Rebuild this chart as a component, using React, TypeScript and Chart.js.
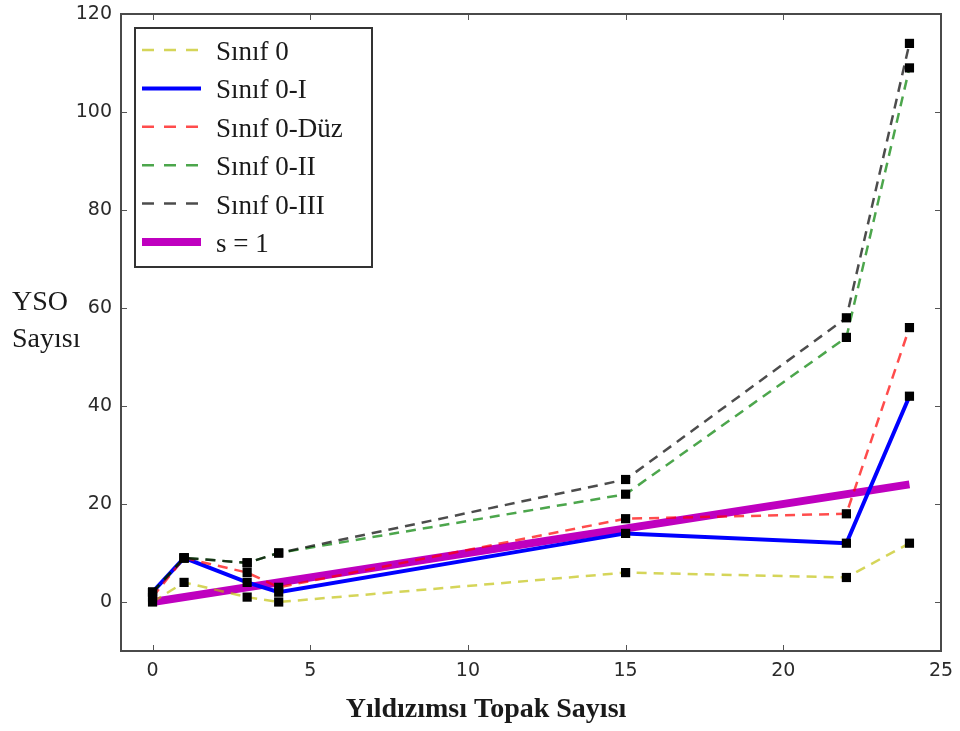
import React, { useEffect, useRef } from "react";
import { Chart, registerables } from "chart.js";

Chart.register(...registerables);

// ---- data ----
const clusterCounts = [0, 1, 3, 4, 15, 22, 24];
const sinif0 = [0, 4, 1, 0, 6, 5, 12];
const sinif0I = [2, 9, 4, 2, 14, 12, 42];
const sinif0Duz = [1, 9, 6, 3, 17, 18, 56];
const sinif0II = [2, 9, 8, 10, 22, 54, 109];
const sinif0III = [2, 9, 8, 10, 25, 58, 114];
const slopeOneX = [0, 24];
const slopeOneY = [0, 24];
const xTickValues = [0, 5, 10, 15, 20, 25];
const yTickValues = [0, 20, 40, 60, 80, 100, 120];
const seriesLabels = ["Sınıf 0", "Sınıf 0-I", "Sınıf 0-Düz", "Sınıf 0-II", "Sınıf 0-III", "s = 1"];
const xTitle = "Yıldızımsı Topak Sayısı";
const yTitleLines = ["YSO", "Sayısı"];

const seriesStyles = [
  { color: "rgba(191,191,0,0.65)", width: 2.5, dash: [10, 7] },
  { color: "#0000ff", width: 4, dash: [] as number[] },
  { color: "rgba(255,0,0,0.7)", width: 2.5, dash: [10, 7] },
  { color: "rgba(0,128,0,0.7)", width: 2.5, dash: [10, 7] },
  { color: "rgba(0,0,0,0.7)", width: 2.5, dash: [10, 7] },
  { color: "#bf00bf", width: 8, dash: [] as number[] },
];

const toPoints = (xs: number[], ys: number[]) => xs.map((x, i) => ({ x, y: ys[i] }));

const overlayPlugin = {
  id: "overlay",
  afterDraw(chart: any) {
    const { ctx, chartArea } = chart;
    const { left, right, top, bottom } = chartArea;
    const xs = chart.scales.x;
    const ys = chart.scales.y;
    ctx.save();
    // tick marks (inward, all sides)
    ctx.strokeStyle = "#555";
    ctx.lineWidth = 1;
    ctx.setLineDash([]);
    xTickValues.forEach((v) => {
      const px = Math.round(xs.getPixelForValue(v)) + 0.5;
      ctx.beginPath();
      ctx.moveTo(px, bottom);
      ctx.lineTo(px, bottom - 6);
      ctx.moveTo(px, top);
      ctx.lineTo(px, top + 6);
      ctx.stroke();
    });
    yTickValues.forEach((v) => {
      const py = Math.round(ys.getPixelForValue(v)) + 0.5;
      ctx.beginPath();
      ctx.moveTo(left, py);
      ctx.lineTo(left + 6, py);
      ctx.moveTo(right, py);
      ctx.lineTo(right - 6, py);
      ctx.stroke();
    });
    // frame
    ctx.strokeStyle = "#4a4a4a";
    ctx.lineWidth = 2;
    ctx.strokeRect(left, top, right - left, bottom - top);

    // legend
    const lx = 135, ly = 28, lw = 237, lh = 239;
    ctx.fillStyle = "#ffffff";
    ctx.fillRect(lx, ly, lw, lh);
    ctx.strokeStyle = "#333";
    ctx.lineWidth = 2;
    ctx.strokeRect(lx, ly, lw, lh);
    ctx.font = "27px 'Liberation Serif', 'Times New Roman', serif";
    ctx.textBaseline = "alphabetic";
    ctx.textAlign = "left";
    seriesLabels.forEach((label, i) => {
      const cy = 50 + i * 38.4;
      const st = seriesStyles[i];
      ctx.beginPath();
      ctx.strokeStyle = st.color;
      ctx.lineWidth = st.width;
      ctx.setLineDash(st.dash.length ? [12, 10] : []);
      ctx.lineCap = "butt";
      ctx.moveTo(142, cy);
      ctx.lineTo(201, cy);
      ctx.stroke();
      ctx.setLineDash([]);
      ctx.fillStyle = "#1a1a1a";
      ctx.fillText(label, 216, cy + 10);
    });

    // axis titles
    ctx.fillStyle = "#1a1a1a";
    ctx.font = "28px 'Liberation Serif', 'Times New Roman', serif";
    ctx.textAlign = "left";
    ctx.fillText(yTitleLines[0], 12, 310);
    ctx.fillText(yTitleLines[1], 12, 347);
    ctx.font = "bold 28px 'Liberation Serif', 'Times New Roman', serif";
    ctx.textAlign = "center";
    ctx.fillText(xTitle, 486, 717);
    ctx.restore();
  },
};

export default function App() {
  const ref = useRef<HTMLCanvasElement | null>(null);
  useEffect(() => {
    if (!ref.current) return;
    const seriesValues = [sinif0, sinif0I, sinif0Duz, sinif0II, sinif0III];
    const lineSets = seriesValues.map((vals, i) => ({
      type: "line" as const,
      label: seriesLabels[i],
      data: toPoints(clusterCounts, vals),
      borderColor: seriesStyles[i].color,
      borderWidth: seriesStyles[i].width,
      borderDash: seriesStyles[i].dash,
      pointRadius: 0,
      fill: false,
      tension: 0,
      order: 5 - i + 1,
    }));
    const slopeSet = {
      type: "line" as const,
      label: seriesLabels[5],
      data: toPoints(slopeOneX, slopeOneY),
      borderColor: seriesStyles[5].color,
      borderWidth: seriesStyles[5].width,
      borderDash: [],
      pointRadius: 0,
      fill: false,
      order: 10,
    };
    const markerPoints: { x: number; y: number }[] = [];
    seriesValues.forEach((vals) => markerPoints.push(...toPoints(clusterCounts, vals)));
    const markerSet = {
      type: "scatter" as const,
      label: "markers",
      data: markerPoints,
      pointStyle: "rect",
      pointRadius: 6.5,
      pointBackgroundColor: "#000",
      pointBorderColor: "#000",
      pointBorderWidth: 0,
      showLine: false,
      order: 0,
    };
    const tickFont = { family: "'DejaVu Sans', sans-serif", size: 19 };
    const chart = new Chart(ref.current, {
      type: "line",
      data: { datasets: [slopeSet, ...lineSets, markerSet] as any },
      options: {
        animation: false,
        responsive: false,
        maintainAspectRatio: false,
        layout: { padding: { left: 0, top: 14, right: 19, bottom: 0 } },
        plugins: { legend: { display: false }, tooltip: { enabled: false } },
        scales: {
          x: {
            type: "linear",
            min: -1,
            max: 25,
            ticks: { stepSize: 5, includeBounds: false, font: tickFont, color: "#2a2a2a", padding: 1 },
            grid: { display: false },
            border: { display: false },
            afterFit: (s: any) => { s.height = 80; },
          },
          y: {
            type: "linear",
            min: -10,
            max: 120,
            ticks: { stepSize: 20, includeBounds: false, font: tickFont, color: "#2a2a2a", padding: 1 },
            grid: { display: false },
            border: { display: false },
            afterFit: (s: any) => { s.width = 121; },
          },
        },
      } as any,
      plugins: [overlayPlugin],
    });
    return () => chart.destroy();
  }, []);
  return (
    <div style={{ position: "absolute", left: 0, top: 0, width: 960, height: 731, background: "#fff" }}>
      <canvas ref={ref} width={960} height={731} style={{ width: 960, height: 731 }} />
    </div>
  );
}
